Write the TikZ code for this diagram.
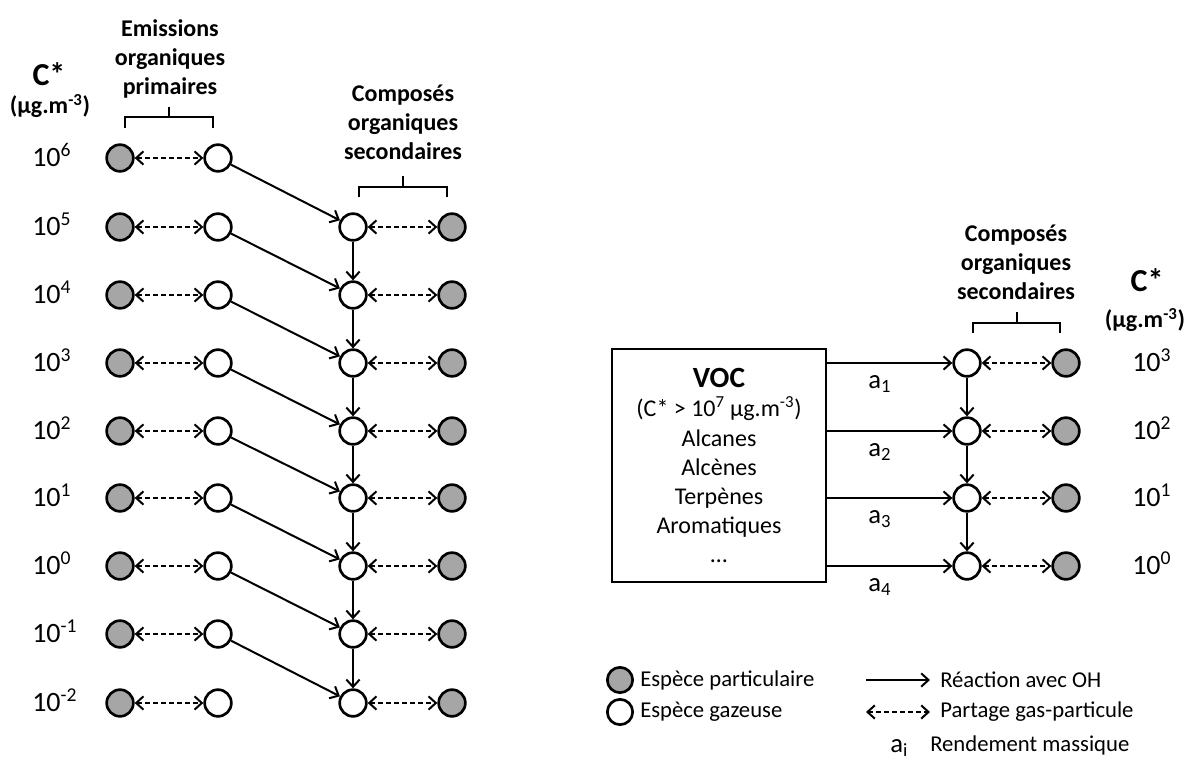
\documentclass[tikz,border=0pt]{standalone}
\usepackage{fontspec}
\setmainfont{Carlito}
\usetikzlibrary{arrows.meta}
\definecolor{pgray}{RGB}{166,166,166}
\begin{document}
\begin{tikzpicture}[x=0.75pt,y=-0.75pt,
  part/.style={circle,draw,line width=2pt,fill=pgray,minimum size=20pt,inner sep=0pt},
  gas/.style={circle,draw,line width=2pt,fill=white,minimum size=20pt,inner sep=0pt},
  tipb/.tip={Straight Barb[length=5.5pt,width=10pt,line width=1.5pt]},
  react/.style={line width=1.5pt,-tipb},
  share/.style={line width=1.5pt,dash pattern=on 3.6pt off 2.4pt,tipb-tipb},
  brace/.style={line width=1.5pt},
  num/.style={font=\fontsize{21}{25}\selectfont,anchor=base west,inner sep=0pt},
  head/.style={font=\fontsize{18}{21.75}\selectfont\bfseries,align=center,inner sep=0pt},
  cstar/.style={font=\fontsize{24}{28}\selectfont\bfseries,inner sep=0pt},
  unit/.style={font=\fontsize{18}{22}\selectfont\bfseries,inner sep=0pt},
  leg/.style={font=\fontsize{17}{20}\selectfont,anchor=west,inner sep=0pt},
  alab/.style={font=\fontsize{20}{24}\selectfont,anchor=base west,inner sep=0pt},
  vocbox/.style={draw,line width=2pt,minimum width=160.5pt,minimum height=174.75pt,
    align=center,font=\fontsize{18}{21.8}\selectfont,inner sep=0pt}
]
\useasboundingbox (0,0) rectangle (1192,770);

% ---------- left part ----------
\node[cstar] (cl) at (49,74) {C*};
\node[unit] (ul) at (50,106) {(µg.m\textsuperscript{-3})};
\node[head] (hp) at (170,59) {Emissions\\organiques\\primaires};
\node[head] (hs) at (403,122) {Composés\\organiques\\secondaires};

\draw[brace] (125,128) -- (125,117) -- (213,117) -- (213,128);
\draw[brace] (169,117) -- (169,107);
\draw[brace] (359,197) -- (359,187) -- (447,187) -- (447,197);
\draw[brace] (403,187) -- (403,176);

\foreach \e/\y [count=\k] in {6/158,5/227,4/295,3/363,2/431,1/498,0/566,-1/634,-2/703}{
  \node[num] (nl\k) at (32,\y+8.8) {10\textsuperscript{\e}};
  \node[part] (lg\k) at (120,\y) {};
  \node[gas] (lw\k) at (218,\y) {};
  \draw[share] (lg\k) -- (lw\k);
}
\foreach \y [count=\k from 2] in {227,295,363,431,498,566,634,703}{
  \node[gas] (sw\k) at (353,\y) {};
  \node[part] (sg\k) at (452,\y) {};
  \draw[share] (sw\k) -- (sg\k);
}
\foreach \k in {1,...,8}{
  \pgfmathtruncatemacro{\n}{\k+1}
  \draw[react] (lw\k) -- (sw\n);
}
\foreach \k in {2,...,8}{
  \pgfmathtruncatemacro{\n}{\k+1}
  \draw[react] (sw\k) -- (sw\n);
}

% ---------- right part ----------
\node[vocbox] (voc) at (719,465.5) {{\fontsize{22}{26}\selectfont\bfseries VOC}\\
  (C* > 10\textsuperscript{7} µg.m\textsuperscript{-3})\\[1pt]Alcanes\\Alcènes\\Terpènes\\Aromatiques\\…};
\node[head] (hr) at (1016,262) {Composés\\organiques\\secondaires};
\draw[brace] (973,333) -- (973,323) -- (1060,323) -- (1060,333);
\draw[brace] (1017,323) -- (1017,312);
\node[cstar] (cr) at (1147,280) {C*};
\node[unit] (ur) at (1145,320) {(µg.m\textsuperscript{-3})};

\foreach \e/\y [count=\k] in {3/363,2/431,1/498,0/566}{
  \node[gas] (rw\k) at (967,\y) {};
  \node[part] (rg\k) at (1066,\y) {};
  \node[num] (nr\k) at (1132,\y+8.8) {10\textsuperscript{\e}};
  \node[alab] (a\k) at (868,\y+25) {a\textsubscript{\k}};
  \draw[share] (rw\k) -- (rg\k);
  \draw[react] (voc.east |- rw\k) -- (rw\k);
}
\foreach \k in {1,2,3}{
  \pgfmathtruncatemacro{\n}{\k+1}
  \draw[react] (rw\k) -- (rw\n);
}

% ---------- legend ----------
\node[part,minimum size=19pt] (lp) at (620,680) {};
\node[gas,minimum size=19pt] (lgz) at (620,712) {};
\node[leg] (tp) at (640,680) {Espèce particulaire};
\node[leg] (tg) at (640,712) {Espèce gazeuse};
\coordinate (r1) at (866,680); \coordinate (r2) at (930,680);
\coordinate (s1) at (866,712); \coordinate (s2) at (930,712);
\draw[react] (r1) -- (r2);
\draw[share] (s1) -- (s2);
\node[leg] (tr) at (940,680) {Réaction avec OH};
\node[leg] (ts) at (940,712) {Partage gas-particule};
\node[alab] (ai) at (890,752) {a\textsubscript{i}};
\node[leg] (tm) at (930,745) {Rendement massique};
\end{tikzpicture}
\end{document}
